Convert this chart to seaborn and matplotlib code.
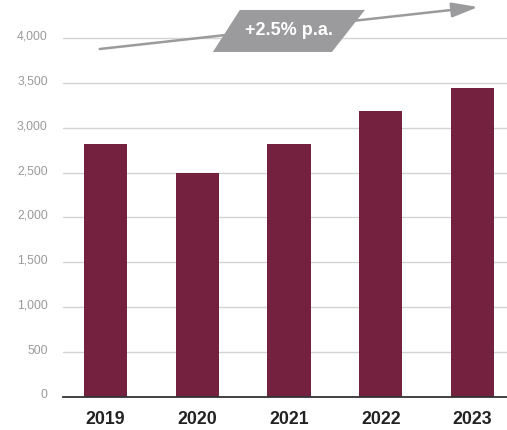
import numpy as np
import pandas as pd
import matplotlib
matplotlib.use("Agg")
import matplotlib.pyplot as plt
import matplotlib.transforms as mtransforms
from matplotlib.patches import Polygon
import seaborn as sns

years = ["2019", "2020", "2021", "2022", "2023"]
values = [2820, 2500, 2820, 3190, 3445]
growth_label = "+2.5% p.a."
y_ticks = [0, 500, 1000, 1500, 2000, 2500, 3000, 3500, 4000]

BAR_COLOR = "#73213e"
GREY = "#9b9b9d"


def plot_chart():
    sns.set_style("white")
    plt.rcParams["font.family"] = ["Liberation Sans", "DejaVu Sans"]

    df = pd.DataFrame({"year": years, "value": values})

    fig = plt.figure(figsize=(5.07, 4.30), dpi=100)
    ax = fig.add_axes([63 / 507, 33 / 430, 444 / 507, 397 / 430])

    sns.barplot(data=df, x="year", y="value", color=BAR_COLOR, width=0.47,
                saturation=1, edgecolor="none", ax=ax, zorder=3)

    ax.set_xlim(-0.463, 4.375)
    ax.set_ylim(0, 4423)
    ax.set_yticks(y_ticks)
    ax.set_yticklabels([f"{v:,}" for v in y_ticks])
    ax.grid(axis="y", color="#d3d3d3", linewidth=1.0, zorder=0)
    ax.set_axisbelow(True)
    for s in ["top", "right", "left"]:
        ax.spines[s].set_visible(False)
    ax.spines["bottom"].set_color("#333333")
    ax.spines["bottom"].set_linewidth(1.3)
    ax.spines["bottom"].set_zorder(4)

    ax.tick_params(axis="y", length=0, pad=11, labelsize=8.8, labelcolor="#9a9a9a")
    ax.tick_params(axis="x", length=0, pad=10, labelsize=12.8, labelcolor="#222222")
    for lbl in ax.get_xticklabels():
        lbl.set_fontweight("bold")
    offset = mtransforms.ScaledTranslation(0, 3 / 100, fig.dpi_scale_trans)
    for lbl in ax.get_yticklabels():
        lbl.set_transform(lbl.get_transform() + offset)

    ax.set_xlabel("")
    ax.set_ylabel("")

    # growth arrow with label
    ax.annotate("", xy=(4.06, 4345), xytext=(-0.063, 3877),
                arrowprops=dict(arrowstyle="-|>,head_length=16,head_width=4.5",
                                mutation_scale=1, color=GREY, lw=1.8,
                                shrinkA=0, shrinkB=0),
                zorder=5, annotation_clip=False)
    poly = Polygon([(1.464, 4312), (2.827, 4312), (2.467, 3844), (1.170, 3844)],
                   closed=True, facecolor=GREY, edgecolor="none", zorder=6,
                   clip_on=False)
    ax.add_patch(poly)
    ax.text(1.998, 4078, growth_label, ha="center", va="center", color="white",
            fontsize=13, fontweight="bold", zorder=7)

    fig.savefig("out.png", dpi=100)


if __name__ == "__main__":
    plot_chart()
